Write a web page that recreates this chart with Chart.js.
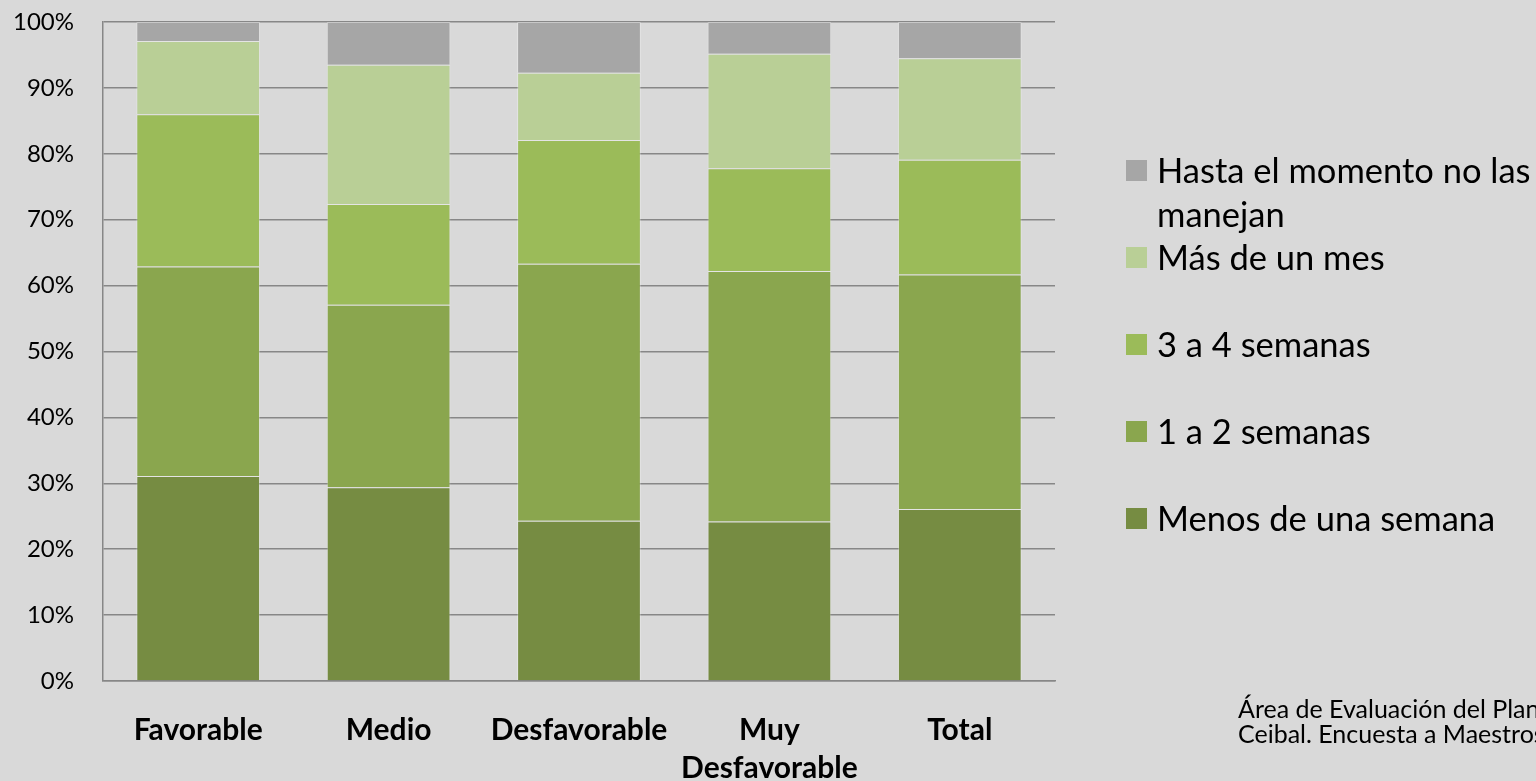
<!DOCTYPE html>
<html>
<head>
<meta charset="utf-8">
<script src="https://cdn.jsdelivr.net/npm/chart.js@4.4.1/dist/chart.umd.min.js"></script>
<style>
    html, body { margin: 0; padding: 0; background: #d9d9d9; overflow: hidden; }
    #wrap { position: relative; width: 1536px; height: 781px; }
    #legend { position: absolute; left: 1126px; top: 148px; font-family: Lato, sans-serif; font-size: 34.5px; color: #000; }
    #legend .item { display: flex; align-items: flex-start; min-height: 87px; line-height: 43.5px; }
    #legend .box { width: 21px; height: 21px; margin-top: 12px; margin-right: 10px; flex: none; }
    #legend .txt { width: 378px; }
    #fuente { position: absolute; left: 1238px; top: 696px; font-family: Lato, sans-serif; font-size: 25px; line-height: 25px; color: #000; white-space: nowrap; }
</style>
</head>
<body>
<div id="wrap">
    <canvas id="grafico" width="1536" height="781"></canvas>
    <div id="legend"></div>
    <div id="fuente">Área de Evaluación del Plan<br>Ceibal. Encuesta a Maestros</div>
</div>
<script>
const categorias = ['Favorable', 'Medio', 'Desfavorable', ['Muy', 'Desfavorable'], 'Total'];

const menosSemana = [31.1, 29.4, 24.3, 24.2, 26.1];
const unoADos     = [31.8, 27.7, 39.0, 38.0, 35.6];
const tresACuatro = [23.1, 15.3, 18.8, 15.6, 17.4];
const masDeUnMes  = [11.1, 21.1, 10.2, 17.4, 15.4];
const noManejan   = [2.9, 6.5, 7.7, 4.8, 5.5];

const ticksY = [0, 10, 20, 30, 40, 50, 60, 70, 80, 90, 100];

const series = [
    { label: 'Menos de una semana', data: menosSemana, color: '#768c42' },
    { label: '1 a 2 semanas', data: unoADos, color: '#8aa64e' },
    { label: '3 a 4 semanas', data: tresACuatro, color: '#9bbb59' },
    { label: 'Más de un mes', data: masDeUnMes, color: '#b9cf96' },
    { label: 'Hasta el momento no las manejan', data: noManejan, color: '#a6a6a6' }
];

const gridColor = '#878787';

const ctx = document.getElementById('grafico').getContext('2d');
const chart = new Chart(ctx, {
    type: 'bar',
    data: {
        labels: categorias,
        datasets: series.map(s => ({
            label: s.label,
            data: s.data,
            backgroundColor: s.color,
            borderColor: 'rgba(255, 255, 255, 0.3)',
            borderWidth: 1,
            categoryPercentage: 1,
            barPercentage: 0.65
        }))
    },
    options: {
        responsive: false,
        devicePixelRatio: 1,
        animation: false,
        layout: { padding: { left: 0, right: 481, top: 22, bottom: 0 } },
        plugins: {
            legend: { display: false },
            tooltip: { enabled: false }
        },
        scales: {
            x: {
                stacked: true,
                grid: { display: false, drawTicks: false },
                border: { display: true, color: gridColor, width: 1.5 },
                ticks: {
                    padding: 30,
                    color: '#000',
                    font: { family: 'Lato', size: 30, weight: 'bold', lineHeight: 1.27 },
                    maxRotation: 0,
                    autoSkip: false
                },
                afterFit: function (scale) { scale.height = 100; }
            },
            y: {
                stacked: true,
                min: 0,
                max: 100,
                afterBuildTicks: function (scale) {
                    scale.ticks = ticksY.map(v => ({ value: v }));
                },
                grid: { color: gridColor, lineWidth: 1.5, drawTicks: false },
                border: { display: true, color: gridColor, width: 1.5 },
                ticks: {
                    padding: 29,
                    color: '#000',
                    font: { family: 'Lato', size: 24 },
                    callback: function (v) { return v + '%'; }
                },
                afterFit: function (scale) {
                    scale.width = 103;
                    scale.paddingTop = 0;
                    scale.paddingBottom = 0;
                }
            }
        }
    }
});

// leyenda en orden inverso, como en la hoja original
var legend = document.getElementById('legend');
chart.data.datasets.slice().reverse().forEach(function (ds) {
    var item = document.createElement('div');
    item.className = 'item';
    item.innerHTML = '<span class="box" style="background:' + ds.backgroundColor + '"></span><span class="txt">' + ds.label + '</span>';
    legend.appendChild(item);
});
</script>
</body>
</html>
